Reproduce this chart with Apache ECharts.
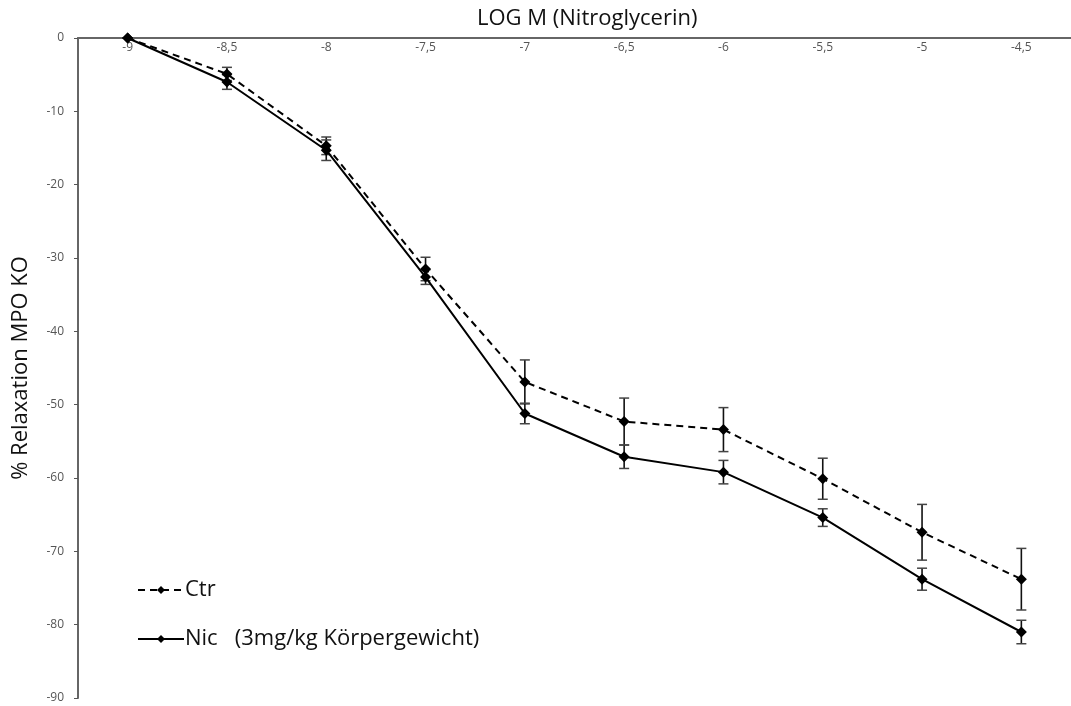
<!DOCTYPE html>
<html>
<head>
<meta charset="utf-8">
<script src="https://cdn.jsdelivr.net/npm/echarts@6/dist/echarts.min.js"></script>
<style>
  html, body { margin: 0; padding: 0; background: #fff; }
  #chart { width: 1071px; height: 706px; }
</style>
</head>
<body>
<div id="chart"></div>
<script>
// Konzentrationen (log M)
const logM = ['-9', '-8,5', '-8', '-7,5', '-7', '-6,5', '-6', '-5,5', '-5', '-4,5']
// Mittelwerte
const ctrMean = [0, -4.9, -14.7, -31.5, -46.9, -52.3, -53.4, -60.1, -67.4, -73.8]
const nicMean = [0, -6.0, -15.3, -32.6, -51.2, -57.1, -59.2, -65.4, -73.8, -81.0]
// Fehler (SEM)
const ctrSem = [0, 0.9, 1.2, 1.6, 3.0, 3.2, 3.0, 2.8, 3.8, 4.2]
const nicSem = [0, 1.0, 1.4, 1.0, 1.4, 1.6, 1.6, 1.2, 1.5, 1.6]

const font = '"Open Sans", sans-serif'

function errData(mean, sem) {
  return mean.map((m, i) => [i, m - sem[i], m + sem[i]])
}

function renderErr(params, api) {
  const i = api.value(0)
  const lo = api.coord([i, api.value(1)])
  const hi = api.coord([i, api.value(2)])
  const hw = 5
  const style = { stroke: '#111', lineWidth: 1.6 }
  return {
    type: 'group',
    children: [
      { type: 'line', shape: { x1: hi[0], y1: hi[1], x2: lo[0], y2: lo[1] }, style },
      { type: 'line', shape: { x1: hi[0] - hw, y1: hi[1], x2: hi[0] + hw, y2: hi[1] }, style: { stroke: '#444', lineWidth: 1.5 } },
      { type: 'line', shape: { x1: lo[0] - hw, y1: lo[1], x2: lo[0] + hw, y2: lo[1] }, style: { stroke: '#444', lineWidth: 1.5 } }
    ]
  }
}

const chart = echarts.init(document.getElementById('chart'))

const option = {
  animation: false,
  textStyle: { fontFamily: font },
  title: {
    text: 'LOG M (Nitroglycerin)',
    left: 472,
    top: 3,
    textStyle: { fontFamily: font, fontSize: 22, fontWeight: 'normal', color: '#111' }
  },
  legend: {
    orient: 'vertical',
    left: 132,
    top: 574,
    itemWidth: 46,
    itemHeight: 10,
    itemGap: 27,
    data: ['Ctr', 'Nic'],
    formatter: name => name === 'Nic' ? 'Nic   (3mg/kg Körpergewicht)' : name,
    textStyle: { fontFamily: font, fontSize: 22, color: '#111', padding: [0, 0, 0, -4] }
  },
  grid: { left: 78, top: 38, width: 996, height: 660 },
  xAxis: {
    type: 'category',
    position: 'top',
    data: logM,
    axisLine: { lineStyle: { color: '#666', width: 2 } },
    axisTick: { inside: true, length: 5, lineStyle: { color: '#555' } },
    axisLabel: { inside: true, margin: 4, fontSize: 12, color: '#555', fontFamily: font }
  },
  yAxis: {
    type: 'value',
    min: -90,
    max: 0,
    interval: 10,
    name: '% Relaxation MPO KO',
    nameLocation: 'middle',
    nameGap: 46,
    nameTextStyle: { fontFamily: font, fontSize: 22, color: '#111' },
    splitLine: { show: false },
    axisLine: { show: true, lineStyle: { color: '#666', width: 2 } },
    axisTick: { show: true, length: 4, lineStyle: { color: '#555' } },
    axisLabel: { fontSize: 12, color: '#555', margin: 14, fontFamily: font }
  },
  series: [
    {
      name: 'Ctr err',
      type: 'custom',
      renderItem: renderErr,
      data: errData(ctrMean, ctrSem),
      z: 1
    },
    {
      name: 'Nic err',
      type: 'custom',
      renderItem: renderErr,
      data: errData(nicMean, nicSem),
      z: 1
    },
    {
      name: 'Ctr',
      type: 'line',
      data: ctrMean,
      symbol: 'diamond',
      symbolSize: 11,
      itemStyle: { color: '#000' },
      lineStyle: { color: '#000', width: 2, type: [7, 5] },
      z: 3
    },
    {
      name: 'Nic',
      type: 'line',
      data: nicMean,
      symbol: 'diamond',
      symbolSize: 11,
      itemStyle: { color: '#000' },
      lineStyle: { color: '#000', width: 2 },
      z: 3
    }
  ]
}

chart.setOption(option)
</script>
</body>
</html>
